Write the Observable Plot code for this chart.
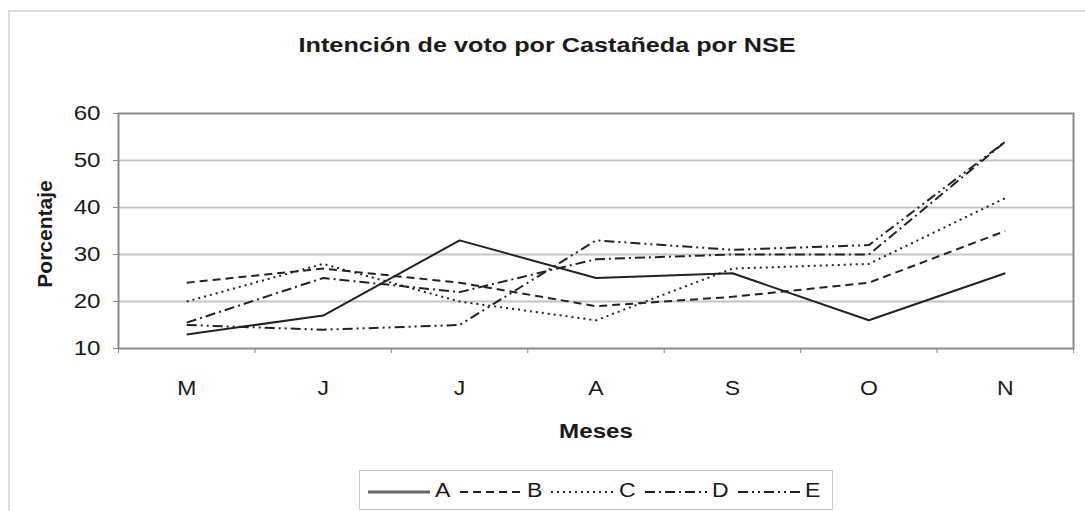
<!DOCTYPE html>
<html>
<head>
<meta charset="utf-8">
<script src="https://cdn.jsdelivr.net/npm/d3@7"></script>
<script src="https://cdn.jsdelivr.net/npm/@observablehq/plot@0.6"></script>
<style>
  html, body { margin: 0; padding: 0; background: #fff; }
  body { width: 1085px; height: 511px; overflow: hidden; position: relative; font-family: "Liberation Sans", Arial, sans-serif; color: #1a1a1a; }
  #outer { position: absolute; left: 8px; top: 10px; width: 1200px; height: 600px; border: 2px solid #dedede; box-sizing: border-box; }
  #chart { position: absolute; left: 0; top: 0; }
  #title { position: absolute; left: 0; width: 1094px; top: 33px; text-align: center; font-weight: bold; font-size: 21px; }
  #title span { display: inline-block; transform: scaleX(1.2); transform-origin: center; }
  #legend { position: absolute; left: 359px; top: 470px; width: 474px; height: 40px; border: 1.5px solid #c8c8c8; box-sizing: border-box; background: #fff; }
  #legend svg { position: absolute; top: 0; }
  #legend .lab { position: absolute; top: 8px; font-size: 20px; transform: scaleX(1.15); }
</style>
</head>
<body>
<div id="outer"></div>
<div id="chart"></div>
<div id="title"><span>Intención de voto por Castañeda por NSE</span></div>
<div id="legend"></div>
<script>
// ---- data ----
const months = ["Mayo", "Junio", "Julio", "Agosto", "Septiembre", "Octubre", "Noviembre"];
const monthLabels = ["M", "J", "J", "A", "S", "O", "N"];
const seriesNames = ["A", "B", "C", "D", "E"];
const valuesA = [13, 17, 33, 25, 26, 16, 26];
const valuesB = [24, 27, 24, 19, 21, 24, 35];
const valuesC = [20, 28, 20, 16, 27, 28, 42];
const valuesD = [15.5, 25, 22, 29, 30, 30, 54];
const valuesE = [15, 14, 15, 33, 31, 32, 54];
const yTicks = [10, 20, 30, 40, 50, 60];
const titleText = "Intención de voto por Castañeda por NSE";
const xTitle = "Meses";
const yTitle = "Porcentaje";

// ---- styles ----
const dashes = { A: null, B: "8,5", C: "2,4", D: "10,4,2,4", E: "10,4,2,4,2,4" };
const lineColor = "#222";

const seriesValues = { A: valuesA, B: valuesB, C: valuesC, D: valuesD, E: valuesE };
const rows = [];
seriesNames.forEach(s => seriesValues[s].forEach((v, i) => rows.push({ serie: s, mes: months[i], idx: i + 0.5, valor: v })));

const lineMarks = seriesNames.map(s => Plot.lineY(rows.filter(r => r.serie === s), {
  x: "idx", y: "valor", stroke: lineColor, strokeWidth: 2,
  strokeDasharray: dashes[s] || undefined, strokeLinejoin: "miter", strokeLinecap: "butt"
}));

const chart = Plot.plot({
  width: 1085,
  height: 460,
  marginTop: 113,
  marginBottom: 112,
  marginLeft: 118,
  marginRight: 12,
  style: { background: "transparent", fontFamily: "'Liberation Sans', Arial, sans-serif", color: "#1a1a1a", overflow: "visible" },
  x: { type: "linear", domain: [0, months.length] },
  y: { domain: [10, 60] },
  marks: [
    Plot.gridY({ ticks: yTicks.slice(1, -1), stroke: "#c4c4c4", strokeOpacity: 1, strokeWidth: 2 }),
    Plot.axisY({ ticks: yTicks, tickSize: 5, tickPadding: 13, fontSize: 21, stroke: "#8a8a8a", label: null }),
    Plot.axisX({ ticks: d3.range(months.length + 1), tickSize: 5, tickFormat: () => "", stroke: "#8a8a8a", label: null }),
    Plot.axisX({ ticks: d3.range(months.length).map(i => i + 0.5), tickSize: 0, tickPadding: 32, fontSize: 20, tickFormat: d => monthLabels[Math.floor(d)], label: null }),
    Plot.text([yTitle], { text: d => d, frameAnchor: "left", textAnchor: "middle", lineAnchor: "middle", rotate: -90, dx: -73, dy: 3, fontWeight: "bold", fontSize: 21 }),
    Plot.text([xTitle], { text: d => d, frameAnchor: "bottom", textAnchor: "middle", lineAnchor: "middle", dy: 83, fontWeight: "bold", fontSize: 21 }),
    ...lineMarks,
    Plot.frame({ stroke: "#8a8a8a", strokeWidth: 2 })
  ]
});
document.getElementById("chart").appendChild(chart);

// widen text slightly (the reference text is horizontally stretched)
chart.querySelectorAll('g[aria-label$="tick label"] text').forEach(t => {
  const tr = t.getAttribute("transform");
  if (tr) t.setAttribute("transform", tr + " scale(1.15,1)");
});
chart.querySelectorAll('g[aria-label="text"] text').forEach(t => {
  const tr = t.getAttribute("transform");
  if (tr && !/rotate/.test(tr)) t.setAttribute("transform", tr + " scale(1.15,1)");
});

// ---- legend ----
const legend = document.getElementById("legend");
const swatchX = [8, 100, 191, 285, 378];
const labelX = [76, 168, 260, 353, 446];
seriesNames.forEach((s, i) => {
  const ns = "http://www.w3.org/2000/svg";
  const sv = document.createElementNS(ns, "svg");
  sv.setAttribute("width", 62); sv.setAttribute("height", 40);
  sv.style.left = swatchX[i] + "px";
  const ln = document.createElementNS(ns, "line");
  ln.setAttribute("x1", 0); ln.setAttribute("x2", 62);
  ln.setAttribute("y1", 21); ln.setAttribute("y2", 21);
  ln.setAttribute("stroke", s === "A" ? "#666" : lineColor);
  ln.setAttribute("stroke-width", s === "A" ? 3 : 2);
  if (dashes[s]) ln.setAttribute("stroke-dasharray", dashes[s]);
  sv.appendChild(ln);
  legend.appendChild(sv);
  const lab = document.createElement("div");
  lab.className = "lab";
  lab.style.left = labelX[i] + "px";
  lab.textContent = s;
  legend.appendChild(lab);
});
</script>
</body>
</html>
